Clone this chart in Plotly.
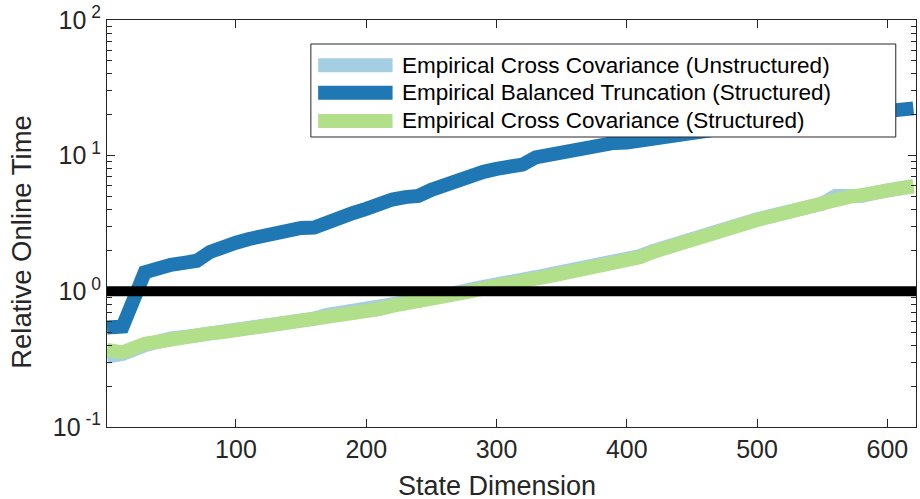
import plotly.graph_objects as go

state_dim = [1, 13, 30, 40, 50, 60, 70, 80, 90, 100, 110, 120, 130, 140, 150, 160, 170, 180, 190, 200,
             210, 220, 230, 240, 250, 260, 270, 280, 290, 300, 310, 320, 330, 340, 350, 360, 370, 380, 390, 400,
             410, 420, 430, 440, 450, 460, 470, 480, 490, 500, 510, 520, 530, 540, 550, 560, 570, 580, 590, 600,
             610, 620]

ecc_unstructured = [0.33, 0.345, 0.40, 0.43, 0.45, 0.46, 0.475, 0.49, 0.50, 0.515, 0.53, 0.555, 0.57, 0.58, 0.59, 0.63, 0.67, 0.70, 0.72, 0.74,
                    0.76, 0.80, 0.83, 0.85, 0.88, 0.92, 0.97, 1.03, 1.08, 1.11, 1.15, 1.20, 1.27, 1.33, 1.39, 1.44, 1.49, 1.54, 1.60, 1.67,
                    1.82, 1.98, 2.13, 2.30, 2.42, 2.62, 2.82, 3.02, 3.17, 3.40, 3.58, 3.83, 4.02, 4.22, 4.42, 5.05, 5.02, 5.05, 5.32, 5.57,
                    5.78, 5.97]

ebt_structured = [0.54, 0.55, 1.38, 1.50, 1.57, 1.62, 1.68, 1.95, 2.15, 2.28, 2.43, 2.55, 2.60, 2.85, 2.93, 2.95, 3.25, 3.55, 3.78, 4.05,
                  4.45, 4.75, 4.95, 5.05, 5.6, 6.1, 6.6, 7.1, 7.6, 8.0, 8.2, 8.6, 9.7, 10.1, 10.5, 11.0, 11.8, 12.4, 12.4, 12.5,
                  13.0, 13.6, 14.1, 14.6, 15.0, 15.4, 15.8, 16.2, 16.6, 17.0, 17.4, 17.8, 18.2, 18.6, 19.0, 19.4, 19.8, 20.2, 20.6, 21.0,
                  21.5, 22.3]

ecc_structured = [0.37, 0.355, 0.41, 0.43, 0.45, 0.46, 0.475, 0.49, 0.50, 0.515, 0.53, 0.555, 0.57, 0.58, 0.59, 0.62, 0.655, 0.68, 0.70, 0.72,
                  0.74, 0.78, 0.81, 0.82, 0.85, 0.89, 0.94, 1.0, 1.05, 1.08, 1.11, 1.17, 1.24, 1.29, 1.35, 1.41, 1.46, 1.50, 1.57, 1.63,
                  1.78, 1.95, 2.10, 2.25, 2.35, 2.55, 2.75, 2.95, 3.12, 3.35, 3.55, 3.80, 4.00, 4.20, 4.38, 4.70, 4.95, 5.00, 5.30, 5.55,
                  5.75, 5.95]

baseline = 1.0

names = ["Empirical Cross Covariance (Unstructured)",
         "Empirical Balanced Truncation (Structured)",
         "Empirical Cross Covariance (Structured)"]
colors = ["#a6cee3", "#1f78b4", "#b2df8a"]
series = [ecc_unstructured, ebt_structured, ecc_structured]

y_tickvals = [0.1, 1, 10, 100]
y_ticktext = ["10<sup> -1</sup>", "10<sup> 0</sup>", "10<sup> 1</sup>", "10<sup> 2</sup>"]
x_tickvals = [100, 200, 300, 400, 500, 600]
x_title = "State Dimension"
y_title = "Relative Online Time"

FONT = "Liberation Sans, Arial, Helvetica, sans-serif"
AX = "#262626"

fig = go.Figure()
for name, col, ys in zip(names, colors, series):
    fig.add_trace(go.Scatter(x=state_dim, y=ys, mode="lines", name=name,
                             line=dict(color=col, width=14), showlegend=False))

fig.add_hline(y=baseline, line=dict(color="black", width=10))

# Custom legend (MATLAB style, long line samples)
lx0, lx1 = 0.252, 0.975
ly0, ly1 = 0.7125, 0.941
fig.add_shape(type="rect", xref="paper", yref="paper", x0=lx0, x1=lx1, y0=ly0, y1=ly1,
              fillcolor="white", line=dict(color=AX, width=1), layer="above")
rows = [0.889, 0.821, 0.752]
for name, col, ry in zip(names, colors, rows):
    fig.add_shape(type="line", xref="paper", yref="paper", x0=0.261, x1=0.353, y0=ry, y1=ry,
                  line=dict(color=col, width=14), layer="above")
    fig.add_annotation(xref="paper", yref="paper", x=0.362, y=ry, text=name, showarrow=False,
                       xanchor="left", yanchor="middle", font=dict(family=FONT, size=22.5, color="black"))

# Axis titles (placed as in the reference)
fig.add_annotation(xref="paper", yref="paper", x=0.482, y=-0.145, text=x_title, showarrow=False,
                   xanchor="center", yanchor="middle", font=dict(family=FONT, size=27, color=AX))
fig.add_annotation(xref="paper", yref="paper", x=-0.105, y=0.455, text=y_title, showarrow=False,
                   textangle=-90, xanchor="center", yanchor="middle", font=dict(family=FONT, size=27.5, color=AX))

fig.update_layout(
    width=920, height=499,
    margin=dict(l=107, r=4, t=20, b=72),
    paper_bgcolor="white", plot_bgcolor="white",
    font=dict(family=FONT, color=AX),
    xaxis=dict(range=[1, 622], tickvals=x_tickvals, automargin=False,
               ticks="inside", ticklen=8, tickcolor=AX, showline=True, linecolor=AX, linewidth=1,
               mirror="allticks", showgrid=False, zeroline=False,
               tickfont=dict(size=25, color=AX)),
    yaxis=dict(type="log", range=[-1, 2], tickvals=y_tickvals, ticktext=y_ticktext, automargin=False,
               ticks="inside", ticklen=8, tickcolor=AX, showline=True, linecolor=AX, linewidth=1,
               mirror="allticks", showgrid=False, zeroline=False,
               minor=dict(ticks="inside", ticklen=5, tickcolor=AX,
                          tickvals=[v * m for v in [0.1, 1, 10] for m in range(2, 10)]),
               tickfont=dict(size=25, color=AX)),
)

fig.write_html("out.html", config={"displayModeBar": False},
               post_script="document.body.style.margin='0';document.body.style.padding='0';")
